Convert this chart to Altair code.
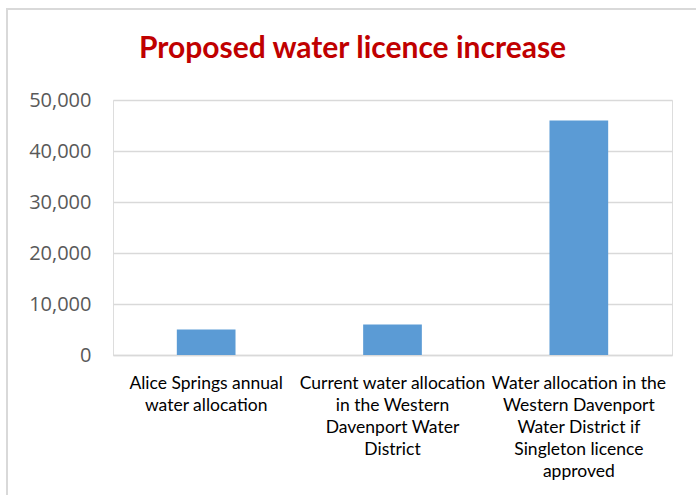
import altair as alt
import pandas as pd

categories = [
    "Alice Springs annual water allocation",
    "Current water allocation in the Western Davenport Water District",
    "Water allocation in the Western Davenport Water District if Singleton licence approved",
]
label_lines = [
    ["Alice Springs annual", "water allocation"],
    ["Current water allocation", "in the Western", "Davenport Water", "District"],
    ["Water allocation in the", "Western Davenport", "Water District if", "Singleton licence", "approved"],
]
values = [5000, 6000, 46000]
y_ticks = [0, 10000, 20000, 30000, 40000, 50000]

df = pd.DataFrame({"category": categories, "value": values})

mapping = "{" + ",".join(
    "'" + c + "':[" + ",".join("'" + l + "'" for l in lines) + "]"
    for c, lines in zip(categories, label_lines)
) + "}"
label_expr = mapping + "[datum.label]"

bars = alt.Chart(df).mark_bar(color="#5B9BD5").encode(
    x=alt.X(
        "category:N",
        sort=categories,
        title=None,
        scale=alt.Scale(paddingInner=0.685, paddingOuter=0.3425),
        axis=alt.Axis(
            labelAngle=0,
            labelExpr=label_expr,
            labelColor="#000000",
            labelFont="Lato",
            labelFontSize=17.5,
            labelLineHeight=22,
            labelPadding=19,
            labelBaseline="top",
            ticks=False,
            domainColor="#d9d9d9",
            domainWidth=1.5,
            grid=False,
            labelLimit=300,
        ),
    ),
    y=alt.Y(
        "value:Q",
        title=None,
        scale=alt.Scale(domain=[0, 50000], nice=False),
        axis=alt.Axis(
            values=y_ticks,
            format=",.0f",
            labelColor="#595959",
            labelFont="Open Sans",
            labelFontSize=20,
            labelPadding=22,
            ticks=False,
            domain=False,
            gridColor="#d9d9d9",
            gridWidth=1.5,
        ),
    ),
)

border = alt.Chart(df).mark_rect(
    fill=None, stroke="#d9d9d9", strokeWidth=2
).encode(
    x=alt.value(-106), x2=alt.value(620), y=alt.value(-91), y2=alt.value(500)
)

chart = alt.layer(border, bars).properties(
    width=559,
    height=255,
    title=alt.TitleParams(
        "Proposed water licence increase",
        color="#C00000",
        font="Lato",
        fontSize=30,
        fontWeight="bold",
        anchor="middle",
        dx=-40,
        dy=92,
        offset=36,
    ),
    autosize=alt.AutoSizeParams(type="none"),
    padding={"left": 113, "top": 100, "right": 24, "bottom": 140},
).configure_view(stroke=None).configure(background="white")

chart.save("out.html", embed_options={"renderer": "svg", "actions": False})
